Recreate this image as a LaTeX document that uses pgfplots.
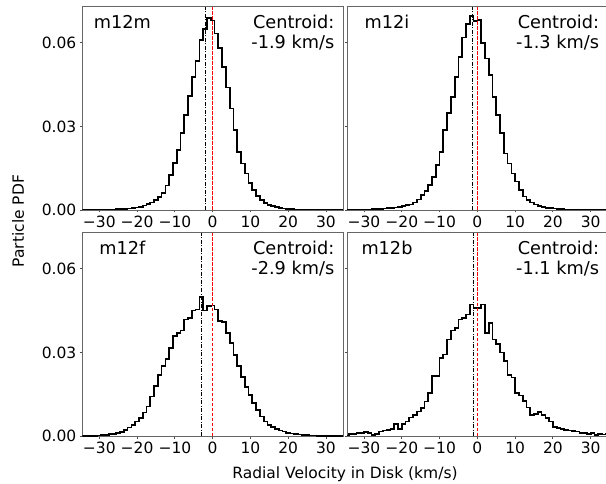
\documentclass[border=0pt]{standalone}
\usepackage{pgfplots}
\pgfplotsset{compat=1.18}
\usepackage{pgfplotstable}
\usepackage{fontspec}
\setmainfont{DejaVu Sans}

\pgfplotstableread[row sep=\\]{
x y\\
-34.5 0.0000\\ -33.5 0.0000\\ -32.5 0.0001\\ -31.5 0.0001\\ -30.5 0.0001\\ -29.5 0.0001\\
-28.5 0.0002\\ -27.5 0.0002\\ -26.5 0.0002\\ -25.5 0.0003\\ -24.5 0.0003\\ -23.5 0.0004\\
-22.5 0.0005\\ -21.5 0.0007\\ -20.5 0.0009\\ -19.5 0.0012\\ -18.5 0.0016\\ -17.5 0.0021\\
-16.5 0.0027\\ -15.5 0.0036\\ -14.5 0.0047\\ -13.5 0.0062\\ -12.5 0.0088\\ -11.5 0.0125\\
-10.5 0.0168\\ -9.5 0.0215\\ -8.5 0.0275\\ -7.5 0.0340\\ -6.5 0.0410\\ -5.5 0.0478\\
-4.5 0.0535\\ -3.5 0.0610\\ -2.5 0.0650\\ -1.5 0.0688\\ -0.5 0.0680\\ 0.5 0.0633\\
1.5 0.0580\\ 2.5 0.0514\\ 3.5 0.0439\\ 4.5 0.0364\\ 5.5 0.0287\\ 6.5 0.0209\\
7.5 0.0167\\ 8.5 0.0131\\ 9.5 0.0096\\ 10.5 0.0072\\ 11.5 0.0050\\ 12.5 0.0037\\
13.5 0.0026\\ 14.5 0.0019\\ 15.5 0.0014\\ 16.5 0.0010\\ 17.5 0.0007\\ 18.5 0.0005\\
19.5 0.0004\\ 20.5 0.0003\\ 21.5 0.0002\\ 22.5 0.0002\\ 23.5 0.0001\\ 24.5 0.0001\\
25.5 0.0001\\ 26.5 0.0001\\ 27.5 0.0000\\ 28.5 0.0000\\ 29.5 0.0000\\ 30.5 0.0000\\
31.5 0.0000\\ 32.5 0.0000\\ 33.5 0.0000\\ 34.5 0.0000\\
}\mm

\pgfplotstableread[row sep=\\]{
x y\\
-35 0.0001\\ -34 0.0001\\ -33 0.0001\\ -32 0.0001\\ -31 0.0001\\ -30 0.0002\\
-29 0.0002\\ -28 0.0003\\ -27 0.0003\\ -26 0.0004\\ -25 0.0005\\ -24 0.0006\\
-23 0.0007\\ -22 0.0009\\ -21 0.0011\\ -20 0.0014\\ -19 0.0018\\ -18 0.0020\\
-17 0.0027\\ -16 0.0038\\ -15 0.0054\\ -14 0.0068\\ -13 0.0090\\ -12 0.0119\\
-11 0.0161\\ -10 0.0209\\ -9 0.0287\\ -8 0.0347\\ -7 0.0406\\ -6 0.0478\\
-5 0.0550\\ -4 0.0619\\ -3 0.0667\\ -2 0.0695\\ -1 0.0679\\ 0 0.0681\\
1 0.0598\\ 2 0.0544\\ 3 0.0484\\ 4 0.0406\\ 5 0.0340\\ 6 0.0275\\
7 0.0203\\ 8 0.0167\\ 9 0.0131\\ 10 0.0102\\ 11 0.0072\\ 12 0.0048\\
13 0.0036\\ 14 0.0027\\ 15 0.0020\\ 16 0.0014\\ 17 0.0010\\ 18 0.0008\\
19 0.0006\\ 20 0.0005\\ 21 0.0004\\ 22 0.0003\\ 23 0.0002\\ 24 0.0002\\
25 0.0001\\ 26 0.0001\\ 27 0.0001\\ 28 0.0001\\ 29 0.0001\\ 30 0.0001\\
31 0.0001\\ 32 0.0001\\ 33 0.0001\\ 34 0.0001\\ 35 0.0001\\
}\mi

\pgfplotstableread[row sep=\\]{
x y\\
-34.5 0.0000\\ -33.5 0.0001\\ -32.5 0.0001\\ -31.5 0.0001\\ -30.5 0.0002\\ -29.5 0.0003\\
-28.5 0.0004\\ -27.5 0.0006\\ -26.5 0.0008\\ -25.5 0.0011\\ -24.5 0.0015\\ -23.5 0.0022\\
-22.5 0.0030\\ -21.5 0.0040\\ -20.5 0.0052\\ -19.5 0.0064\\ -18.5 0.0084\\ -17.5 0.0106\\
-16.5 0.0142\\ -15.5 0.0180\\ -14.5 0.0220\\ -13.5 0.0250\\ -12.5 0.0275\\ -11.5 0.0316\\
-10.5 0.0358\\ -9.5 0.0370\\ -8.5 0.0378\\ -7.5 0.0418\\ -6.5 0.0424\\ -5.5 0.0450\\
-4.5 0.0454\\ -3.5 0.0498\\ -2.5 0.0450\\ -1.5 0.0466\\ -0.5 0.0468\\ 0.5 0.0454\\
1.5 0.0412\\ 2.5 0.0410\\ 3.5 0.0370\\ 4.5 0.0334\\ 5.5 0.0290\\ 6.5 0.0250\\
7.5 0.0212\\ 8.5 0.0176\\ 9.5 0.0146\\ 10.5 0.0118\\ 11.5 0.0094\\ 12.5 0.0070\\
13.5 0.0052\\ 14.5 0.0040\\ 15.5 0.0032\\ 16.5 0.0026\\ 17.5 0.0020\\ 18.5 0.0016\\
19.5 0.0012\\ 20.5 0.0009\\ 21.5 0.0007\\ 22.5 0.0005\\ 23.5 0.0004\\ 24.5 0.0003\\
25.5 0.0002\\ 26.5 0.0002\\ 27.5 0.0001\\ 28.5 0.0001\\ 29.5 0.0001\\ 30.5 0.0001\\
31.5 0.0001\\ 32.5 0.0001\\ 33.5 0.0001\\ 34.5 0.0001\\
}\mf

\pgfplotstableread[row sep=\\]{
x y\\
-35 0.0002\\ -34 0.0006\\ -33 0.0008\\ -32 0.0010\\ -31 0.0012\\ -30 0.0014\\
-29 0.0010\\ -28 0.0004\\ -27 0.0008\\ -26 0.0016\\ -25 0.0020\\ -24 0.0022\\
-23 0.0024\\ -22 0.0042\\ -21 0.0025\\ -20 0.0042\\ -19 0.0052\\ -18 0.0066\\
-17 0.0076\\ -16 0.0088\\ -15 0.0100\\ -14 0.0124\\ -13 0.0154\\ -12 0.0214\\
-11 0.0214\\ -10 0.0280\\ -9 0.0292\\ -8 0.0346\\ -7 0.0378\\ -6 0.0388\\
-5 0.0418\\ -4 0.0424\\ -3 0.0436\\ -2 0.0472\\ -1 0.0460\\ 0 0.0460\\
1 0.0472\\ 2 0.0370\\ 3 0.0406\\ 4 0.0346\\ 5 0.0330\\ 6 0.0300\\
7 0.0270\\ 8 0.0220\\ 9 0.0210\\ 10 0.0154\\ 11 0.0145\\ 12 0.0126\\
13 0.0102\\ 14 0.0076\\ 15 0.0078\\ 16 0.0086\\ 17 0.0076\\ 18 0.0064\\
19 0.0052\\ 20 0.0032\\ 21 0.0028\\ 22 0.0025\\ 23 0.0022\\ 24 0.0020\\
25 0.0018\\ 26 0.0016\\ 27 0.0012\\ 28 0.0010\\ 29 0.0006\\ 30 0.0010\\
31 0.0004\\ 32 0.0008\\ 33 0.0005\\ 34 0.0006\\ 35 0.0006\\
}\mb

\tikzset{
  hstep/.style={const plot mark left, black, line width=1.7pt, line join=miter, mark=none},
  cline/.style={black, line width=0.9pt, dash pattern=on 4pt off 1.5pt on 1pt off 1.5pt},
  zline/.style={red, line width=1pt, dash pattern=on 3.5pt off 1.5pt},
  lab/.style={font=\fontsize{17.7}{21}\selectfont, inner sep=0pt},
}
\pgfplotsset{
  panel/.style={
    scale only axis, width=260.7pt, height=203.5pt, anchor=south west,
    xmin=-34.5, xmax=34.5, ymin=0, ymax=0.073,
    xtick={-30,-20,-10,0,10,20,30},
    xticklabels={−30,−20,−10,0,10,20,30},
    ytick={0,0.03,0.06},
    yticklabels={0.00,0.03,0.06},
    scaled y ticks=false, scaled x ticks=false,
    tick align=outside, major tick length=2.5pt,
    xtick pos=bottom, ytick pos=left,
    axis line style={black!60, line width=0.9pt},
    tick style={black!70, line width=0.9pt},
    ticklabel style={font=\fontsize{15.5}{18}\selectfont},
  },
}

\begin{document}
\begin{tikzpicture}
\useasboundingbox (0,0) rectangle (606pt,483pt);

\begin{axis}[panel, at={(82.3pt,273pt)}]
\addplot[hstep] table[x=x,y=y] {\mm};
\addplot[cline] coordinates {(-1.9,0) (-1.9,0.073)};
\addplot[zline] coordinates {(0,0) (0,0.073)};
\node[lab, anchor=base] at (rel axis cs:0,1) [xshift=40pt, yshift=-21.5pt] {m12m};
\node[lab, anchor=base east] at (rel axis cs:1,1) [xshift=-8.5pt, yshift=-22.3pt] {Centroid:};
\node[lab, anchor=base east] at (rel axis cs:1,1) [xshift=-8.5pt, yshift=-41.5pt] {-1.9 km/s};
\end{axis}

\begin{axis}[panel, at={(347pt,273pt)}, yticklabels={}]
\addplot[hstep] table[x=x,y=y] {\mi};
\addplot[cline] coordinates {(-1.3,0) (-1.3,0.073)};
\addplot[zline] coordinates {(0,0) (0,0.073)};
\node[lab, anchor=base] at (rel axis cs:0,1) [xshift=40pt, yshift=-21.5pt] {m12i};
\node[lab, anchor=base east] at (rel axis cs:1,1) [xshift=-8.5pt, yshift=-22.3pt] {Centroid:};
\node[lab, anchor=base east] at (rel axis cs:1,1) [xshift=-8.5pt, yshift=-41.5pt] {-1.3 km/s};
\end{axis}

\begin{axis}[panel, at={(82.3pt,47pt)}]
\addplot[hstep] table[x=x,y=y] {\mf};
\addplot[cline] coordinates {(-2.9,0) (-2.9,0.073)};
\addplot[zline] coordinates {(0,0) (0,0.073)};
\node[lab, anchor=base] at (rel axis cs:0,1) [xshift=40pt, yshift=-21.5pt] {m12f};
\node[lab, anchor=base east] at (rel axis cs:1,1) [xshift=-8.5pt, yshift=-22.3pt] {Centroid:};
\node[lab, anchor=base east] at (rel axis cs:1,1) [xshift=-8.5pt, yshift=-41.5pt] {-2.9 km/s};
\end{axis}

\begin{axis}[panel, at={(347pt,47pt)}, yticklabels={}]
\addplot[hstep] table[x=x,y=y] {\mb};
\addplot[cline] coordinates {(-1.1,0) (-1.1,0.073)};
\addplot[zline] coordinates {(0,0) (0,0.073)};
\node[lab, anchor=base] at (rel axis cs:0,1) [xshift=40pt, yshift=-21.5pt] {m12b};
\node[lab, anchor=base east] at (rel axis cs:1,1) [xshift=-8.5pt, yshift=-22.3pt] {Centroid:};
\node[lab, anchor=base east] at (rel axis cs:1,1) [xshift=-8.5pt, yshift=-41.5pt] {-1.1 km/s};
\end{axis}

\node[rotate=90, font=\fontsize{15.5}{18}\selectfont, inner sep=0pt] at (18pt,262pt) {Particle PDF};
\node[anchor=base, font=\fontsize{15.5}{18}\selectfont, inner sep=0pt] at (345pt,5pt) {Radial Velocity in Disk (km/s)};
\end{tikzpicture}
\end{document}
